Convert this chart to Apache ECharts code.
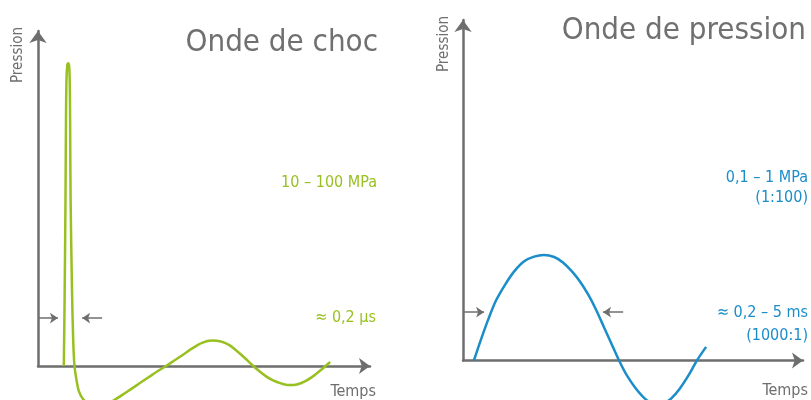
<!DOCTYPE html>
<html>
<head>
<meta charset="utf-8">
<script src="https://cdn.jsdelivr.net/npm/echarts@6/dist/echarts.min.js"></script>
<style>html,body{margin:0;padding:0;background:#fff}#c{width:811px;height:400px}</style>
</head>
<body>
<div id="c"></div>
<script>
// Shock wave (left panel): time (arbitrary units 0-100), pressure (arbitrary units 0-100)
var shockTime = [7.77, 8.01, 8.28, 8.43, 8.58, 8.83, 9.10, 9.37, 9.55, 9.67, 9.82, 10.24, 10.60, 10.99,
  11.6, 12.3, 13.6, 15.4, 17.8, 20.2, 22.6, 25.3, 28.0, 30.7, 33.4, 36.1, 38.6,
  41.3, 44.0, 46.7, 49.4, 52.4, 55.1, 57.5, 59.9, 62.3, 64.5, 66.6, 68.7, 70.8,
  73.2, 75.6, 78.0, 80.4, 82.8, 85.2, 88.0];
var shockPressure = [0, 19.7, 49.6, 73.4, 85.4, 89.9, 90.4, 89.6, 85.4, 73.4, 49.6, 22.7, 7.8, 0,
  -4.2, -7.5, -9.9, -11.3, -12.1, -11.8, -10.4, -8.7, -6.9, -5.1, -3.3, -1.5, 0,
  1.8, 3.6, 5.4, 6.9, 7.6, 7.3, 6.3, 4.5, 2.4, 0.3, -1.5, -3.1, -4.3,
  -5.2, -5.7, -5.5, -4.6, -3.1, -1.2, 1.2];
// Pressure wave (right panel)
var waveTime = [3.2, 5.3, 7.4, 9.7, 12.4, 15.0, 17.9, 20.9, 23.8, 26.8, 29.4, 32.1, 34.4, 36.8,
  39.1, 41.5, 43.5, 45.9, 48.2, 50.6, 53.5, 55.6, 57.4, 59.1, 61.2, 63.8, 66.5, 68.8, 71.5];
var wavePressure = [0, 6.2, 12.0, 17.6, 22.3, 26.1, 29.1, 30.5, 31.0, 30.4, 28.8, 26.1, 23.2, 19.4,
  15.0, 9.7, 5.3, 0, -4.4, -7.9, -11.2, -12.6, -13.2, -12.6, -11.2, -8.2, -4.1, 0, 4.0];
// Duration markers [start, end] in time units, at a pressure level
var shockSpanLevel = 14.3;
var shockSpanArrows = [[0, 6.0], [19.3, 13.3]];
var waveSpanLevel = 14.2;
var waveSpanArrows = [[0, 6.2], [47.1, 41.2]];
// Texts
var titles = ['Onde de choc', 'Onde de pression'];
var yName = 'Pression';
var xName = 'Temps';
var shockLabels = ['10 – 100 MPa', '≈ 0,2 µs'];
var waveLabels = ['0,1 – 1 MPa', '(1:100)', '≈ 0,2 – 5 ms', '(1000:1)'];

var GREEN = '#98c021', BLUE = '#1b8dc9', GRAY = '#6e6e6e', TGRAY = '#707070';
var FONT = '"Liberation Sans Narrow", "DejaVu Sans Condensed", "Open Sans", sans-serif';

function zip(a, b) { return a.map(function (v, i) { return [v, b[i]]; }); }
function arrows(level, spans) {
  return spans.map(function (s) { return [{ coord: [s[0], level] }, { coord: [s[1], level] }]; });
}
function xAx(gi) {
  return { gridIndex: gi, type: 'value', min: 0, max: 100,
    axisLine: { show: true, onZero: false, symbol: ['none', 'arrow'], symbolSize: [12, 11], lineStyle: { color: GRAY, width: 2.5 } },
    axisTick: { show: false }, axisLabel: { show: false }, splitLine: { show: false } };
}
function yAx(gi) {
  return { gridIndex: gi, type: 'value', min: 0, max: 100,
    axisLine: { show: true, onZero: false, symbol: ['none', 'arrow'], symbolSize: [13, 12], lineStyle: { color: GRAY, width: 2.5 } },
    axisTick: { show: false }, axisLabel: { show: false }, splitLine: { show: false } };
}
function txt(x, y, s, size, color, align, rot) {
  return { type: 'text', x: x, y: y, rotation: rot || 0, silent: true,
    style: { text: s, font: size + 'px ' + FONT, fill: color, align: align || 'right', verticalAlign: 'middle' } };
}

var chart = echarts.init(document.getElementById('c'), null, { renderer: 'canvas' });
chart.setOption({
  animation: false,
  backgroundColor: '#fff',
  grid: [
    { left: 38, top: 31, width: 332, bottom: 34 },
    { left: 463, top: 20, width: 340, bottom: 39.5 }
  ],
  xAxis: [xAx(0), xAx(1)],
  yAxis: [yAx(0), yAx(1)],
  series: [
    { type: 'line', xAxisIndex: 0, yAxisIndex: 0, data: zip(shockTime, shockPressure), smooth: 0.3,
      showSymbol: false, clip: false, silent: true, lineStyle: { color: GREEN, width: 2.5 },
      markLine: { silent: true, symbol: ['none', 'arrow'], symbolSize: 8, label: { show: false },
        lineStyle: { color: GRAY, width: 1.5, type: 'solid' }, data: arrows(shockSpanLevel, shockSpanArrows) } },
    { type: 'line', xAxisIndex: 1, yAxisIndex: 1, data: zip(waveTime, wavePressure), smooth: 0.3,
      showSymbol: false, clip: false, silent: true, lineStyle: { color: BLUE, width: 2.5 },
      markLine: { silent: true, symbol: ['none', 'arrow'], symbolSize: 8, label: { show: false },
        lineStyle: { color: GRAY, width: 1.5, type: 'solid' }, data: arrows(waveSpanLevel, waveSpanArrows) } }
  ],
  graphic: [
    txt(378, 43, titles[0], 31, TGRAY),
    txt(806, 31, titles[1], 31, TGRAY),
    txt(18, 55, yName, 15, GRAY, 'center', Math.PI / 2),
    txt(444, 44, yName, 15, GRAY, 'center', Math.PI / 2),
    txt(376, 392, xName, 16, GRAY),
    txt(808, 391, xName, 16, GRAY),
    txt(377, 183, shockLabels[0], 16, GREEN),
    txt(376, 318, shockLabels[1], 16, GREEN),
    txt(808, 178, waveLabels[0], 16, BLUE),
    txt(808, 198, waveLabels[1], 16, BLUE),
    txt(808, 313, waveLabels[2], 16, BLUE),
    txt(808, 336, waveLabels[3], 16, BLUE)
  ]
});
</script>
</body>
</html>
